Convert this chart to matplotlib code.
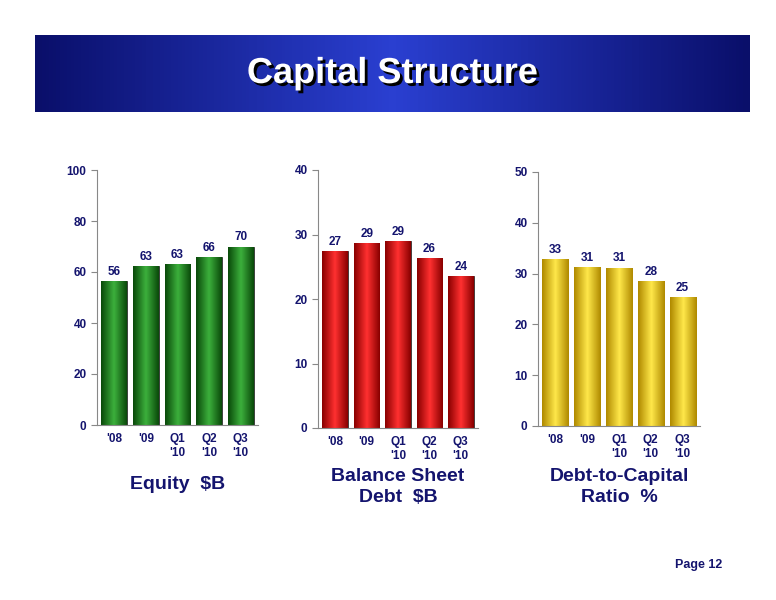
import matplotlib
matplotlib.use("Agg")
import matplotlib.pyplot as plt
import numpy as np
from matplotlib.colors import LinearSegmentedColormap
import matplotlib.patheffects as pe

plt.rcParams['font.family'] = ['Liberation Sans', 'DejaVu Sans']

cats = ["'08", "'09", "Q1\n'10", "Q2\n'10", "Q3\n'10"]
equity = [56.4, 62.5, 63.2, 66.0, 70.0]
equity_lbl = ["56", "63", "63", "66", "70"]
debt = [27.4, 28.7, 29.0, 26.4, 23.6]
debt_lbl = ["27", "29", "29", "26", "24"]
ratio = [32.8, 31.3, 31.2, 28.5, 25.3]
ratio_lbl = ["33", "31", "31", "28", "25"]

navy = "#14146e"
W, H = 776, 600
fig = plt.figure(figsize=(7.76, 6), dpi=100)

# banner
bax = fig.add_axes([35/W, 1-112/H, 715/W, 77/H])
grad = np.linspace(0, 1, 200)
gimg = np.abs(grad - 0.5) * 2
bcmap = LinearSegmentedColormap.from_list("b", ["#2a3fd0", "#0a0f6a"])
bax.imshow(gimg[None, :], aspect="auto", cmap=bcmap, extent=[0, 1, 0, 1])
bax.set_axis_off()
bax.text(0.5, 0.5, "Capital Structure", color="white", fontsize=26, fontweight="bold",
         ha="center", va="center", transform=bax.transAxes,
         path_effects=[pe.withSimplePatchShadow(offset=(2, -2), shadow_rgbFace="black", alpha=1)])

def panel(rect, vals, lbls, ymax, step, c_light, c_dark, title, ty):
    l, t, r, b = rect
    ax = fig.add_axes([l/W, 1-b/H, (r-l)/W, (b-t)/H])
    x = np.arange(len(vals))
    bars = ax.bar(x, vals, width=0.82, color=c_dark, edgecolor="#333333", linewidth=0.6, zorder=2)
    cm = LinearSegmentedColormap.from_list("g", [c_dark, c_light, c_dark])
    for bar in bars:
        x0, w, h = bar.get_x(), bar.get_width(), bar.get_height()
        im = ax.imshow(np.linspace(0, 1, 50)[None, :], aspect="auto", cmap=cm,
                       extent=[x0, x0+w, 0, h], zorder=2.5)
        im.set_clip_path(bar)
    for xi, v, s in zip(x, vals, lbls):
        ax.text(xi, v + ymax*0.012, s, ha="center", va="bottom", color=navy,
                fontsize=8.5, fontweight="bold", zorder=3)
    ax.set_xlim(-0.55, len(vals)-0.45)
    ax.set_ylim(0, ymax)
    ax.set_yticks(np.arange(0, ymax+1, step))
    ax.set_xticks(x)
    ax.set_xticklabels(cats)
    for s in ["top", "right"]:
        ax.spines[s].set_visible(False)
    ax.spines["bottom"].set_color("#888888")
    ax.spines["left"].set_color("#888888")
    ax.tick_params(axis="x", length=0, pad=6, labelcolor=navy, labelsize=8.5)
    ax.tick_params(axis="y", length=4, color="#888888", labelcolor=navy, labelsize=8.5)
    for lab in ax.get_xticklabels() + ax.get_yticklabels():
        lab.set_fontweight("bold")
    fig.text((l+r)/2/W, 1-ty/H, title, ha="center", va="top", color=navy,
             fontsize=14, fontweight="bold", linespacing=1.3)
    return ax

panel((97, 170, 258, 425), equity, equity_lbl, 100, 20, "#3cb03c", "#0a4a0a", "Equity  $B", 476)
panel((318, 170, 478, 428), debt, debt_lbl, 40, 10, "#ff3030", "#8a0000", "Balance Sheet\nDebt  $B", 468)
panel((538, 172, 700, 426), ratio, ratio_lbl, 50, 10, "#ffe84a", "#b08a00", "Debt-to-Capital\nRatio  %", 468)

fig.text(722/W, 1-565/H, "Page 12", ha="right", va="center", color=navy, fontsize=9, fontweight="bold")
fig.savefig("out.png", dpi=100)
